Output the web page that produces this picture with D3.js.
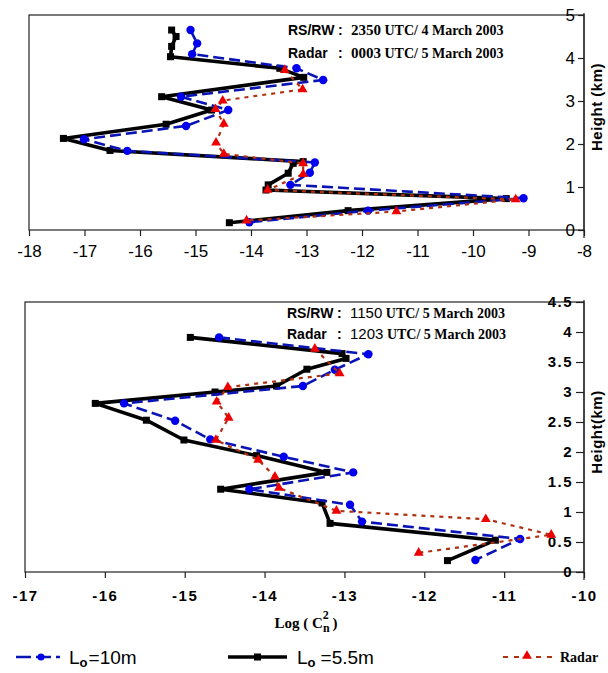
<!DOCTYPE html>
<html>
<head>
<meta charset="utf-8">
<script src="https://cdn.jsdelivr.net/npm/d3@7"></script>
<style>
  body { margin: 0; background: #fff; }
  svg { display: block; }
  .ax path, .ax line { stroke: #222; stroke-width: 1.2; }
  .top-ax text { font-family: 'Liberation Sans', Arial, sans-serif; font-size: 17px; fill: #000; }
  .bot-ax text { font-family: 'Liberation Sans', Arial, sans-serif; font-size: 15px; font-weight: bold; fill: #000; letter-spacing: 1.5px; }
</style>
</head>
<body>
<svg id="chart" width="608" height="673"></svg>
<script>
// ---- top panel (2350 UTC / 4 March 2003) ----
const topXTicks = [-18, -17, -16, -15, -14, -13, -12, -11, -10, -9, -8];
const topYTicks = [0, 1, 2, 3, 4, 5];

const topBlackH = [4.65, 4.50, 4.27, 4.03, 3.76, 3.55, 3.10, 2.79, 2.46, 2.13, 1.85, 1.59, 1.55, 1.32, 1.05, 0.93, 0.73, 0.45, 0.17];
const topBlackV = [-15.43, -15.35, -15.43, -15.45, -13.48, -13.05, -15.61, -14.71, -15.53, -17.38, -16.54, -13.06, -13.24, -13.33, -13.69, -13.73, -9.40, -12.25, -14.39];

const topBlueH = [4.65, 4.34, 4.09, 3.76, 3.49, 3.10, 2.79, 2.42, 2.11, 1.84, 1.57, 1.33, 1.05, 0.74, 0.45, 0.18];
const topBlueV = [-15.09, -14.97, -15.06, -13.18, -12.70, -15.26, -14.41, -15.17, -17.01, -16.23, -12.85, -12.94, -13.29, -9.09, -11.89, -14.03];

const topRedH = [3.72, 3.27, 3.01, 2.81, 2.47, 2.03, 1.77, 1.55, 1.30, 0.93, 0.71, 0.43, 0.22];
const topRedV = [-13.39, -13.07, -14.51, -14.64, -14.49, -14.63, -14.49, -13.06, -13.06, -13.70, -9.23, -11.38, -14.08];

// ---- bottom panel (1150 UTC / 5 March 2003) ----
const botXTicks = [-17, -16, -15, -14, -13, -12, -11, -10];
const botYTicks = [0, 0.5, 1, 1.5, 2, 2.5, 3, 3.5, 4, 4.5];

const botBlackH = [3.91, 3.64, 3.56, 3.38, 3.10, 3.00, 2.81, 2.53, 2.20, 1.94, 1.66, 1.38, 1.15, 0.81, 0.53, 0.19];
const botBlackV = [-14.93, -13.03, -12.98, -13.47, -13.85, -14.62, -16.12, -15.48, -15.01, -14.10, -13.22, -14.55, -13.28, -13.18, -11.11, -11.71];

const botBlueH = [3.91, 3.63, 3.37, 3.10, 2.81, 2.52, 2.21, 1.92, 1.66, 1.38, 1.12, 0.84, 0.55, 0.20];
const botBlueV = [-14.57, -12.70, -13.12, -13.52, -15.76, -15.12, -14.68, -13.76, -12.89, -14.19, -12.93, -12.78, -10.80, -11.36];

const botRedH = [3.72, 3.31, 3.08, 2.84, 2.57, 2.20, 1.87, 1.59, 1.40, 1.02, 0.88, 0.62, 0.32];
const botRedV = [-13.37, -13.06, -14.46, -14.60, -14.45, -14.61, -14.08, -13.87, -13.82, -13.10, -11.23, -10.41, -12.07];

const BLUE = '#0a14b4', BLUE_DOT = '#0000ee', RED_LINE = '#b03010', RED_MARK = '#ee0000';

const svg = d3.select('#chart');

function zip(hs, vs) {
  return hs.map((h, i) => ({ h, v: vs[i] }));
}

function drawPanel(cfg) {
  const x = d3.scaleLinear().domain(cfg.xDomain).range([cfg.left, cfg.right]);
  const y = d3.scaleLinear().domain(cfg.yDomain).range([cfg.bottom, cfg.top]);
  const g = svg.append('g');

  // frame
  g.append('rect')
    .attr('x', cfg.left).attr('y', cfg.top)
    .attr('width', cfg.right - cfg.left).attr('height', cfg.bottom - cfg.top)
    .attr('fill', 'none').attr('stroke', '#222').attr('stroke-width', 1.2);

  const xa = g.append('g').attr('class', 'ax ' + cfg.cls)
    .attr('transform', `translate(0,${cfg.bottom})`)
    .call(d3.axisBottom(x).tickValues(cfg.xTicks).tickSize(6).tickPadding(cfg.xPad).tickSizeOuter(0)
      .tickFormat(d => String(d)));
  xa.select('.domain').remove();

  const ya = g.append('g').attr('class', 'ax ' + cfg.cls)
    .attr('transform', `translate(${cfg.right},0)`)
    .call(d3.axisLeft(y).tickValues(cfg.yTicks).tickSize(cfg.yTick).tickPadding(3).tickSizeOuter(0)
      .tickFormat(d => String(d)));
  ya.select('.domain').remove();
  ya.append('line').attr('x1', 0).attr('x2', 0).attr('y1', cfg.top - 2).attr('y2', cfg.bottom + 8)
    .attr('stroke', '#222').attr('stroke-width', 1.2);

  g.append('text')
    .attr('transform', `translate(${cfg.right + 18},${cfg.yLabelY}) rotate(-90)`)
    .attr('text-anchor', 'middle')
    .attr('font-family', "'Liberation Sans', Arial, sans-serif")
    .attr('font-size', 15).attr('font-weight', 'bold')
    .attr('letter-spacing', 0.5)
    .text(cfg.yLabel);

  const line = d3.line().x(d => x(d.v)).y(d => y(d.h));

  // Lo = 5.5 m (black, squares)
  const black = zip(cfg.blackH, cfg.blackV);
  g.append('path').datum(black).attr('d', line)
    .attr('fill', 'none').attr('stroke', '#000').attr('stroke-width', 3.6).attr('stroke-linejoin', 'round');
  g.selectAll('.sq').data(black).enter().append('rect')
    .attr('x', d => x(d.v) - 3.5).attr('y', d => y(d.h) - 3.5)
    .attr('width', 7).attr('height', 7).attr('fill', '#000');

  // Lo = 10 m (blue, circles)
  const blue = zip(cfg.blueH, cfg.blueV);
  g.append('path').datum(blue).attr('d', line)
    .attr('fill', 'none').attr('stroke', BLUE).attr('stroke-width', 2.6).attr('stroke-dasharray', '11 5');
  g.selectAll('.dot').data(blue).enter().append('circle')
    .attr('cx', d => x(d.v)).attr('cy', d => y(d.h)).attr('r', 4.2).attr('fill', BLUE_DOT);

  // Radar (red, triangles)
  const red = zip(cfg.redH, cfg.redV);
  g.append('path').datum(red).attr('d', line)
    .attr('fill', 'none').attr('stroke', RED_LINE).attr('stroke-width', 2.2).attr('stroke-dasharray', '4 5');
  g.selectAll('.tri').data(red).enter().append('path')
    .attr('transform', d => `translate(${x(d.v)},${y(d.h)})`)
    .attr('d', d3.symbol(d3.symbolTriangle, 42))
    .attr('fill', RED_MARK);

  // header notes
  cfg.notes.forEach((n, i) => {
    const t = g.append('text').attr('x', cfg.noteX).attr('y', cfg.noteY + i * cfg.noteGap)
      .attr('font-size', 14).attr('font-weight', 'bold');
    t.append('tspan').attr('font-family', "'Liberation Sans', Arial, sans-serif").text(n[0]);
    t.append('tspan').attr('x', cfg.noteX + 50).attr('font-family', "'Liberation Sans', Arial, sans-serif").text(':');
    t.append('tspan').attr('x', cfg.noteX + 63).attr('font-family', cfg.numFont)
      .attr('font-weight', cfg.numWeight).attr('font-size', cfg.numSize).text(n[1]);
    t.append('tspan').attr('font-family', "'Liberation Serif', 'Times New Roman', serif").text(n[2]);
  });
}

drawPanel({
  cls: 'top-ax', left: 29, right: 584, top: 15, bottom: 230,
  xDomain: [-18, -8], yDomain: [0, 5], xTicks: topXTicks, yTicks: topYTicks, xPad: 9, yTick: 6,
  blackH: topBlackH, blackV: topBlackV, blueH: topBlueH, blueV: topBlueV, redH: topRedH, redV: topRedV,
  yLabel: 'Height (km)', yLabelY: 107,
  notes: [['RS/RW', '2350', ' UTC/ 4 March 2003'], ['Radar', '0003', ' UTC/ 5 March 2003']],
  noteX: 288, noteY: 35, noteGap: 23,
  numFont: "'Liberation Serif', 'Times New Roman', serif", numWeight: 'bold', numSize: 15
});

drawPanel({
  cls: 'bot-ax', left: 25, right: 584, top: 302, bottom: 572,
  xDomain: [-17, -10], yDomain: [0, 4.5], xTicks: botXTicks, yTicks: botYTicks, xPad: 12, yTick: 8,
  blackH: botBlackH, blackV: botBlackV, blueH: botBlueH, blueV: botBlueV, redH: botRedH, redV: botRedV,
  yLabel: 'Height(km)', yLabelY: 432,
  notes: [['RS/RW', '1150', '  UTC/ 5 March 2003'], ['Radar', '1203', '  UTC/ 5 March 2003']],
  noteX: 287, noteY: 318, noteGap: 21,
  numFont: "'Liberation Sans', Arial, sans-serif", numWeight: 'normal', numSize: 15
});

// x-axis title: Log ( Cn^2 )
const xt = svg.append('text').attr('x', 306).attr('y', 628).attr('text-anchor', 'middle')
  .attr('font-family', "'Liberation Serif', 'Times New Roman', serif")
  .attr('font-size', 15).attr('font-weight', 'bold');
xt.append('tspan').text('Log ( C');
xt.append('tspan').attr('dy', 4).attr('font-size', 12).text('n');
xt.append('tspan').attr('dx', -7).attr('dy', -13).attr('font-size', 12).text('2');
xt.append('tspan').attr('dy', 9).text(' )');

// legend
const lg = svg.append('g');
const ly = 657;
lg.append('line').attr('x1', 16).attr('x2', 60).attr('y1', ly).attr('y2', ly)
  .attr('stroke', BLUE).attr('stroke-width', 2.6).attr('stroke-dasharray', '15 5');
lg.append('circle').attr('cx', 41).attr('cy', ly).attr('r', 3.5).attr('fill', BLUE_DOT);
lg.append('line').attr('x1', 228).attr('x2', 287).attr('y1', ly).attr('y2', ly)
  .attr('stroke', '#000').attr('stroke-width', 3.4);
lg.append('rect').attr('x', 254).attr('y', ly - 3.5).attr('width', 7).attr('height', 7).attr('fill', '#000');
lg.append('line').attr('x1', 503).attr('x2', 552).attr('y1', ly).attr('y2', ly)
  .attr('stroke', RED_LINE).attr('stroke-width', 2.2).attr('stroke-dasharray', '5 6');
lg.append('path').attr('transform', `translate(527,${ly - 1})`)
  .attr('d', d3.symbol(d3.symbolTriangle, 42)).attr('fill', RED_MARK);

function loLabel(xp, rest, gap) {
  const t = lg.append('text').attr('x', xp).attr('y', ly + 7)
    .attr('font-family', "'Liberation Sans', Arial, sans-serif").attr('font-size', 19);
  t.append('tspan').text('L');
  t.append('tspan').attr('dy', 3).attr('font-size', 13).attr('font-weight', 'bold').text('o');
  t.append('tspan').attr('dy', -3).attr('dx', gap).text(rest);
}
loLabel(69, '=10m', 1);
loLabel(297, '=5.5m', 5);

lg.append('text').attr('x', 560).attr('y', ly + 5)
  .attr('font-family', "'Liberation Serif', 'Times New Roman', serif")
  .attr('font-size', 14).attr('font-weight', 'bold').text('Radar');
</script>
</body>
</html>
